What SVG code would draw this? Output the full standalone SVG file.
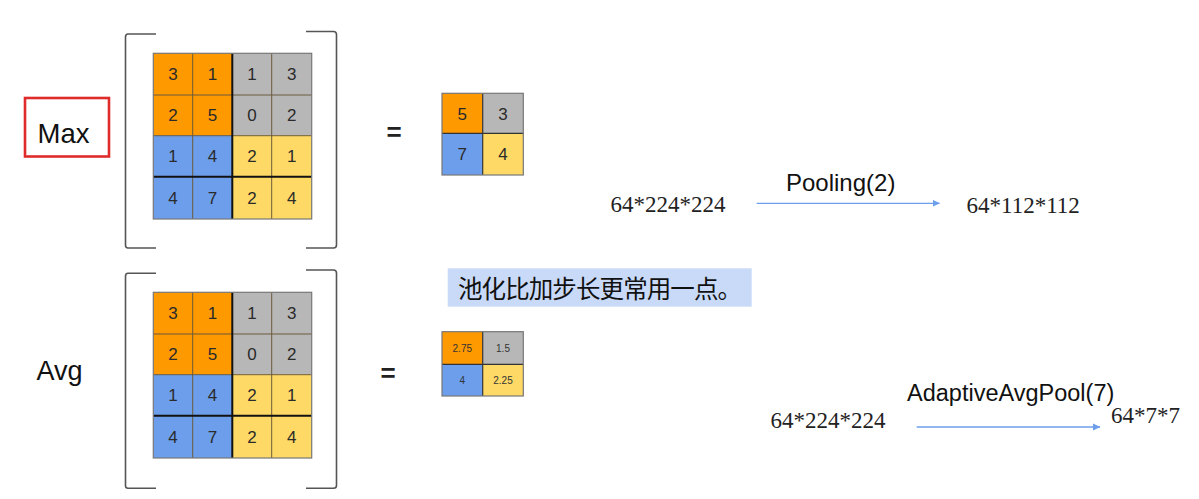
<svg xmlns="http://www.w3.org/2000/svg" width="1199" height="499" viewBox="0 0 1199 499">
<style>
.o{fill:#ff9900}.g{fill:#b7b7b7}.b{fill:#6d9eeb}.y{fill:#ffd966}
.thin{stroke:#6b5a3a;stroke-width:1;fill:none}
.thick{stroke:#111;stroke-width:2;fill:none}
.outer{stroke:#777;stroke-width:1.2;fill:none}
.num{font-family:"Liberation Sans",Arial,sans-serif;font-size:17px;fill:#2a2a2a;text-anchor:middle}
.sm{font-family:"Liberation Sans",Arial,sans-serif;font-size:10px;fill:#333;text-anchor:middle}
.lbl{font-family:"Liberation Sans",Arial,sans-serif;font-size:24px;fill:#111}
.big{font-family:"Liberation Sans",Arial,sans-serif;font-size:27.5px;fill:#111}
.ser{font-family:"Liberation Serif","Times New Roman",serif;font-size:23px;fill:#222}
.eq{font-family:"Liberation Sans",Arial,sans-serif;font-size:26px;fill:#222;text-anchor:middle;font-weight:bold}
.br{stroke:#555;stroke-width:1.6;fill:none}
.arr{stroke:#6d9eeb;stroke-width:1.3;fill:none}
</style>
<defs>
<marker id="ah" markerWidth="8" markerHeight="8" refX="7" refY="4" orient="auto" markerUnits="userSpaceOnUse">
<path d="M0,0.5 L7.5,4 L0,7.5 Z" fill="#6d9eeb"/>
</marker>
<g id="grid">
<rect class="o" x="153.3" y="0" width="79" height="82"/>
<rect class="g" x="232.3" y="0" width="79.4" height="82"/>
<rect class="b" x="153.3" y="82" width="79" height="83.7"/>
<rect class="y" x="232.3" y="82" width="79.4" height="83.7"/>
<path class="thin" d="M192.7,0 V165.7 M271.7,0 V165.7 M153.3,41.7 H311.7 M153.3,82.4 H311.7"/>
<path class="thick" d="M232.3,0 V165.7 M153.3,123.4 H311.7"/>
<rect class="outer" x="153.3" y="0" width="158.4" height="165.7"/>
<text class="num" x="173" y="27">3</text><text class="num" x="212.5" y="27">1</text><text class="num" x="252" y="27">1</text><text class="num" x="291.7" y="27">3</text>
<text class="num" x="173" y="68">2</text><text class="num" x="212.5" y="68">5</text><text class="num" x="252" y="68">0</text><text class="num" x="291.7" y="68">2</text>
<text class="num" x="173" y="109">1</text><text class="num" x="212.5" y="109">4</text><text class="num" x="252" y="109">2</text><text class="num" x="291.7" y="109">1</text>
<text class="num" x="173" y="150.5">4</text><text class="num" x="212.5" y="150.5">7</text><text class="num" x="252" y="150.5">2</text><text class="num" x="291.7" y="150.5">4</text>
</g>
</defs>

<g id="max-label">
<rect x="25" y="98" width="84" height="58.5" fill="#fff" stroke="#e02b2b" stroke-width="2.6"/>
<text class="big" x="37.5" y="143">Max</text>
</g>

<g id="max-input">
<path class="br" d="M156,34 H128 Q125.5,34 125.5,37 V245 Q125.5,248 128,248 H156"/>
<path class="br" d="M306,31.5 H333.5 Q336.5,31.5 336.5,34.5 V245 Q336.5,248 333.5,248 H306"/>
<use href="#grid" y="53.3"/>
</g>

<g id="max-eq"><text class="eq" x="394" y="141">=</text></g>

<g id="max-output">
<rect class="o" x="442" y="93.3" width="40.7" height="40"/>
<rect class="g" x="482.7" y="93.3" width="40.6" height="40"/>
<rect class="b" x="442" y="133.3" width="40.7" height="41.7"/>
<rect class="y" x="482.7" y="133.3" width="40.6" height="41.7"/>
<path d="M482.7,93.3 V175 M442,133.3 H523.3" stroke="#333" stroke-width="1.2"/>
<rect class="outer" x="442" y="93.3" width="81.3" height="81.7"/>
<text class="num" x="462.3" y="119.5">5</text><text class="num" x="503" y="119.5">3</text>
<text class="num" x="462.3" y="160">7</text><text class="num" x="503" y="160">4</text>
</g>

<g id="avg-label"><text class="big" x="36.5" y="380" style="font-size:27px">Avg</text></g>

<g id="avg-input">
<path class="br" d="M156,273.3 H128 Q125.5,273.3 125.5,276.3 V485.5 Q125.5,488.3 128,488.3 H156"/>
<path class="br" d="M306,270 H333.5 Q336.5,270 336.5,273 V485.5 Q336.5,488.3 333.5,488.3 H306"/>
<use href="#grid" y="292.3"/>
</g>

<g id="avg-eq"><text class="eq" x="388" y="382">=</text></g>

<g id="avg-output">
<rect class="o" x="442" y="331.7" width="40.7" height="32.6"/>
<rect class="g" x="482.7" y="331.7" width="40.6" height="32.6"/>
<rect class="b" x="442" y="364.3" width="40.7" height="31.7"/>
<rect class="y" x="482.7" y="364.3" width="40.6" height="31.7"/>
<path d="M482.7,331.7 V396 M442,364.3 H523.3" stroke="#333" stroke-width="1.2"/>
<rect class="outer" x="442" y="331.7" width="81.3" height="64.3"/>
<text class="sm" x="462.3" y="351.5">2.75</text><text class="sm" x="503" y="351.5">1.5</text>
<text class="sm" x="462.3" y="384">4</text><text class="sm" x="503" y="384">2.25</text>
</g>

<g id="note">
<rect x="447.7" y="268.3" width="304" height="38.4" fill="#c9daf8"/>
<text x="458" y="297.5" font-family="'Noto Sans CJK SC','Noto Sans CJK JP',sans-serif" font-size="24.5" fill="#111" textLength="284" lengthAdjust="spacing">池化比加步长更常用一点。</text>
</g>

<g id="pool-in"><text class="ser" x="610.5" y="212.3">64*224*224</text></g>
<g id="pool-out"><text class="ser" x="966.5" y="213.3">64*112*112</text></g>
<g id="adapt-in"><text class="ser" x="770.5" y="428">64*224*224</text></g>
<g id="adapt-out"><text class="ser" x="1111" y="423">64*7*7</text></g>

<g id="connectors">
<path class="arr" d="M916.7,427 H1100" marker-end="url(#ah)"/>
<path class="arr" d="M756.7,203.3 H939.5" marker-end="url(#ah)"/>
<text class="lbl" x="786" y="190.7">Pooling(2)</text>
<text class="lbl" x="907" y="401" style="font-size:23.5px">AdaptiveAvgPool(7)</text>
</g>
</svg>
